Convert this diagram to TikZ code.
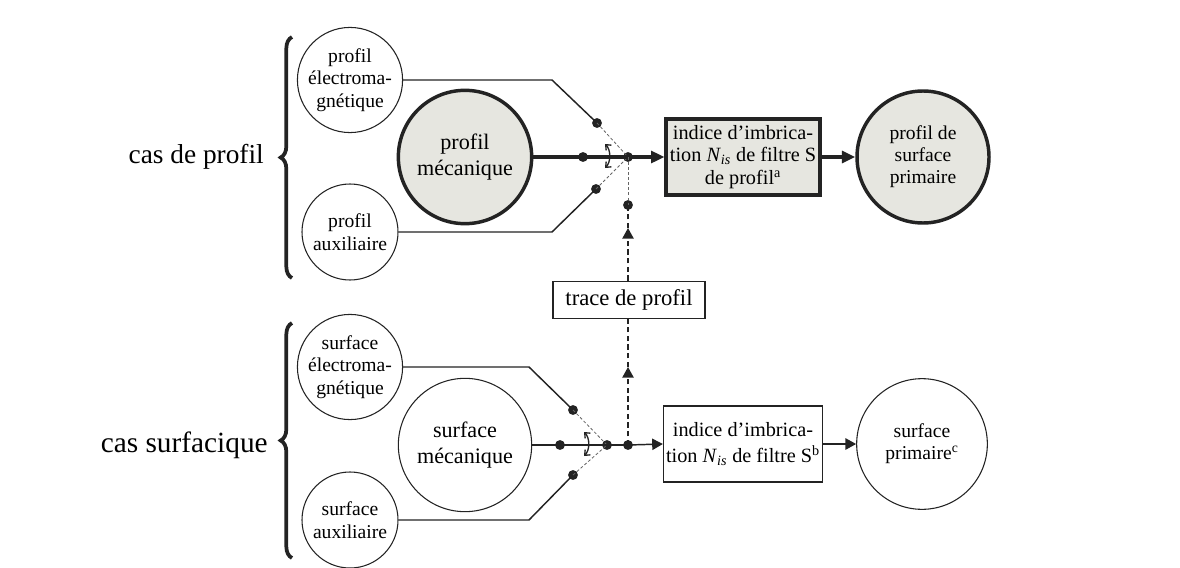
\documentclass[tikz,border=0pt]{standalone}
\usepackage{fontspec}
\setmainfont{Liberation Serif}
\usetikzlibrary{arrows.meta,decorations.pathreplacing,calc}
\definecolor{ink}{RGB}{35,35,35}
\definecolor{fillg}{RGB}{230,230,224}
\tikzset{
  smallc/.style={circle, draw=ink, line width=0.8pt, minimum size=72pt, inner sep=0pt, align=center, font=\fontsize{14.7}{17}\selectfont},
  bigc/.style={circle, draw=ink, line width=0.8pt, minimum size=100pt, inner sep=0pt, align=center, font=\fontsize{16.6}{19}\selectfont},
  primc/.style={circle, draw=ink, line width=0.8pt, minimum size=99pt, inner sep=0pt, align=center, font=\fontsize{14.7}{16.5}\selectfont},
  heavy/.style={line width=2.6pt, fill=fillg},
  boxn/.style={draw=ink, line width=0.8pt, minimum width=115pt, minimum height=57pt, inner sep=2pt, align=center, font=\fontsize{15.2}{17}\selectfont},
  dotn/.style={circle, fill=ink, inner sep=0pt, minimum size=7.4pt},
  conn/.style={draw=ink, line width=1.1pt},
  mainln/.style={draw=ink, line width=2.3pt},
  guide/.style={draw=ink!70, line width=0.6pt, dash pattern=on 2.2pt off 1.6pt},
  dashln/.style={draw=ink, line width=1.1pt, dash pattern=on 4pt off 2.5pt},
  tipbig/.style={-{Triangle[length=10pt,width=9pt]}},
  tipsm/.style={-{Triangle[length=8pt,width=8.5pt]}},
  swing/.style={draw=ink, line width=1pt, {Straight Barb[length=3.2pt,width=5.5pt]}-{Straight Barb[length=3.2pt,width=5.5pt]}},
  bracen/.style={draw=ink, line width=2.8pt, decorate, decoration={brace, amplitude=8.5pt}},
  casn/.style={anchor=east, inner sep=0pt}
}
\begin{document}
\begin{tikzpicture}[x=0.75pt,y=-0.75pt]
\useasboundingbox (0,0) rectangle (1180,567);

% ---------- profile case ----------
\node[casn, font=\fontsize{20.5}{24}\selectfont] (cp) at (264,157) {cas de profil};
\draw[bracen] (292,278) -- (292,37);

\node[smallc] (pe) at (350,80) {profil\\électroma-\\gnétique};
\node[bigc, heavy, draw=ink] (pm) at (465,157) {profil\\mécanique};
\node[smallc] (pa) at (350,232) {profil\\auxiliaire};

\coordinate (c1) at (552,80);
\coordinate (c2) at (552,232);
\node[dotn] (d1) at (597,123) {};
\node[dotn] (d2) at (583,157) {};
\node[dotn] (d3) at (596,189) {};
\node[dotn] (j1) at (628,157) {};
\node[dotn] (d4) at (628,205) {};

\node[boxn, line width=3pt, fill=fillg] (b1) at (743,157) {indice d’imbrica-\\tion \textit{N}\textsubscript{\textit{is}} de filtre S\\de profil\textsuperscript{a}};
\node[primc, heavy, draw=ink] (pp) at (923,157) {profil de\\surface\\primaire};

\draw[conn] (pe.east) -- (c1) -- (d1.center);
\draw[conn] (pa.east) -- (c2) -- (d3.center);
\draw[guide] (d1.center) -- (j1.center);
\draw[guide] (d3.center) -- (j1.center);
\draw[mainln] (pm.east) -- (d2.center) -- (j1.center);
\draw[mainln, tipbig] (j1.center) -- (b1.west);
\draw[mainln, tipbig] (b1.east) -- (pp.west);
\draw[swing] (605,144) .. controls (611,150) and (611,162) .. (605,168);
\draw[guide] (j1.center) -- (d4.center);

% ---------- trace ----------
\node[draw=ink, line width=0.8pt, minimum width=114pt, minimum height=28pt, inner sep=0pt, font=\fontsize{17}{20}\selectfont] (tr) at (629,300) {trace de profil};
\coordinate (a1) at (628,228);
\coordinate (a2) at (628,367);
\draw[dashln, tipsm] (tr.north -| a1) -- (a1);
\draw[dashln] (a1) -- (d4.center);

% ---------- surface case ----------
\node[casn, font=\fontsize{22}{26}\selectfont] (cs) at (268,445) {cas surfacique};
\draw[bracen] (292,558) -- (292,323);

\node[smallc] (se) at (350,367) {surface\\électroma-\\gnétique};
\node[bigc] (sm) at (465,445) {surface\\mécanique};
\node[smallc] (sa) at (350,520) {surface\\auxiliaire};

\coordinate (c3) at (529,367);
\coordinate (c4) at (529,520);
\node[dotn] (e1) at (573,410) {};
\node[dotn] (e2) at (560,445) {};
\node[dotn] (e3) at (573,475) {};
\node[dotn] (j2) at (607,445) {};
\node[dotn] (e4) at (628,445) {};

\node[boxn, font=\fontsize{15.2}{19}\selectfont] (b2) at (743,444) {indice d’imbrica-\\tion \textit{N}\textsubscript{\textit{is}} de filtre S\textsuperscript{b}};
\node[primc, minimum size=98pt] (sp) at (922,444) {surface\\primaire\textsuperscript{c}};

\draw[conn] (se.east) -- (c3) -- (e1.center);
\draw[conn] (sa.east) -- (c4) -- (e3.center);
\draw[guide] (e1.center) -- (j2.center);
\draw[guide] (e3.center) -- (j2.center);
\draw[conn] (sm.east) -- (e2.center) -- (j2.center) -- (e4.center);
\draw[conn, tipsm] (e4.center) -- (b2.west);
\draw[conn, tipsm] (b2.east) -- (sp.west);
\draw[swing] (584,432) .. controls (590,438) and (590,450) .. (584,456);

\draw[dashln, tipsm] (e4.center) -- (a2);
\draw[dashln] (a2) -- (tr.south -| a2);
\end{tikzpicture}
\end{document}
